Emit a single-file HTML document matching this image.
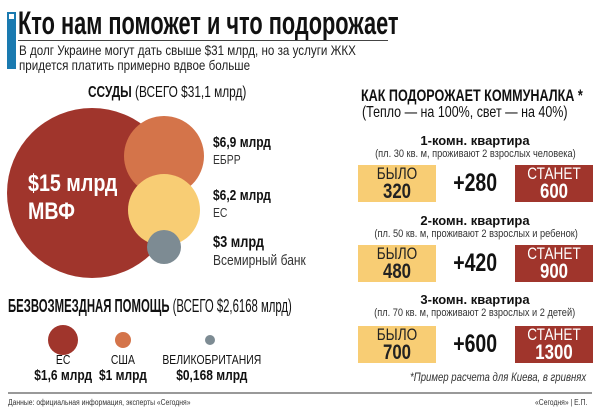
<!DOCTYPE html>
<html><head><meta charset="utf-8"><style>
body{margin:0;width:600px;height:411px;background:#fff;position:relative;overflow:hidden;font-family:"Liberation Sans",sans-serif;color:#111}
.a{position:absolute;white-space:nowrap}
.c{position:absolute;border-radius:50%}
.ctr{text-align:center}
.k{display:inline-block;transform-origin:left center}
.kc{display:inline-block;transform-origin:center center}
.box{position:absolute;width:78px;height:37px;text-align:center;line-height:17px;font-size:17px}
.box span{display:block;transform:scaleX(.8)}
.box b{display:block;font-size:21px;line-height:19px;transform:scaleX(.8)}
.y{background:#f8cd74;color:#222}
.r{background:#a0352c;color:#fff}
.h{font-weight:bold;font-size:13px;width:240px;left:355px;text-align:center}
.n{font-size:11px;width:240px;left:355px;text-align:center;color:#333}
.p{font-weight:bold;font-size:25px;width:70px;left:440px;text-align:center}
</style></head><body>
<div class="a" style="left:7px;top:12px;width:9px;height:57px;background:#1a7ab0"></div>
<div class="a" style="left:9px;top:14px;width:5px;height:5px;background:#fff"></div>
<div class="a" style="left:18px;top:5px;font-size:32px;font-weight:bold"><span class="k" style="transform:scaleX(.68)">Кто нам поможет и что подорожает</span></div>
<div class="a" style="left:18px;top:40px;width:370px;height:1px;background:#444"></div>
<div class="a" style="left:19px;top:43px;font-size:14px;line-height:15px;color:#222"><span class="k" style="transform:scaleX(.83)">В долг Украине могут дать свыше $31 млрд, но за услуги ЖКХ<br>придется платить примерно вдвое больше</span></div>

<div class="a" style="left:88px;top:84px;font-size:16px"><span class="k" style="transform:scaleX(.74)"><b>ССУДЫ</b> (ВСЕГО $31,1 млрд)</span></div>
<div class="c" style="left:7px;top:108px;width:170px;height:170px;background:#a0352c"></div>
<div class="c" style="left:124px;top:116px;width:80px;height:80px;background:#d4744a"></div>
<div class="c" style="left:128px;top:174px;width:72px;height:72px;background:#f8cd74"></div>
<div class="c" style="left:147px;top:230px;width:34px;height:34px;background:#7d8b93"></div>
<div class="a" style="left:28px;top:170px;color:#fff;font-weight:bold;font-size:24px;line-height:28px"><span class="k" style="transform:scaleX(.82)">$15 млрд<br>МВФ</span></div>
<div class="a" style="left:213px;top:134px;font-size:15px;line-height:17px"><span class="k" style="transform:scaleX(.8)"><b>$6,9 млрд</b><br><span style="font-size:13px;color:#333">ЕБРР</span></span></div>
<div class="a" style="left:213px;top:187px;font-size:15px;line-height:17px"><span class="k" style="transform:scaleX(.8)"><b>$6,2 млрд</b><br><span style="font-size:13px;color:#333">ЕС</span></span></div>
<div class="a" style="left:213px;top:234px;font-size:16px;line-height:18px"><span class="k" style="transform:scaleX(.8)"><b>$3 млрд</b><br><span style="font-size:15px;color:#333">Всемирный банк</span></span></div>

<div class="a" style="left:8px;top:296px;font-size:18px"><span class="k" style="transform:scaleX(.63)"><b>БЕЗВОЗМЕЗДНАЯ ПОМОЩЬ</b> (ВСЕГО $2,6168 млрд)</span></div>
<div class="c" style="left:48px;top:325px;width:30px;height:30px;background:#a0352c"></div>
<div class="c" style="left:115px;top:332px;width:16px;height:16px;background:#d4744a"></div>
<div class="c" style="left:205px;top:335px;width:10px;height:10px;background:#7d8b93"></div>
<div class="a ctr" style="left:13px;width:100px;top:352px;font-size:13px;line-height:16px"><span class="kc" style="transform:scaleX(.8)">ЕС<br><b style="font-size:15px">$1,6 млрд</b></span></div>
<div class="a ctr" style="left:73px;width:100px;top:352px;font-size:13px;line-height:16px"><span class="kc" style="transform:scaleX(.8)">США<br><b style="font-size:15px">$1 млрд</b></span></div>
<div class="a ctr" style="left:150px;width:120px;top:352px;font-size:13px;line-height:16px"><span class="kc" style="transform:scaleX(.8)">ВЕЛИКОБРИТАНИЯ<br><b style="font-size:15px">$0,168 млрд</b></span></div>

<div class="a ctr" style="left:222px;width:500px;top:87px;font-size:17px;font-weight:bold;line-height:18px"><span class="kc" style="transform:scaleX(.74)">КАК ПОДОРОЖАЕТ КОММУНАЛКА *</span></div>
<div class="a ctr" style="left:215px;width:500px;top:104px;font-size:16px"><span class="kc" style="transform:scaleX(.78)">(Тепло — на 100%, свет — на 40%)</span></div>

<div class="a h" style="top:133px">1-комн. квартира</div>
<div class="a n" style="top:148px"><span class="kc" style="transform:scaleX(.84)">(пл. 30 кв. м, проживают 2 взрослых человека)</span></div>
<div class="box y" style="left:358px;top:165px"><span>БЫЛО</span><b>320</b></div>
<div class="a p" style="top:169px"><span class="kc" style="transform:scaleX(.78)">+280</span></div>
<div class="box r" style="left:515px;top:165px"><span>СТАНЕТ</span><b>600</b></div>

<div class="a h" style="top:213px">2-комн. квартира</div>
<div class="a n" style="top:228px"><span class="kc" style="transform:scaleX(.84)">(пл. 50 кв. м, проживают 2 взрослых и ребенок)</span></div>
<div class="box y" style="left:358px;top:245px"><span>БЫЛО</span><b>480</b></div>
<div class="a p" style="top:249px"><span class="kc" style="transform:scaleX(.78)">+420</span></div>
<div class="box r" style="left:515px;top:245px"><span>СТАНЕТ</span><b>900</b></div>

<div class="a h" style="top:292px">3-комн. квартира</div>
<div class="a n" style="top:307px"><span class="kc" style="transform:scaleX(.84)">(пл. 70 кв. м, проживают 2 взрослых и 2 детей)</span></div>
<div class="box y" style="left:358px;top:326px"><span>БЫЛО</span><b>700</b></div>
<div class="a p" style="top:330px"><span class="kc" style="transform:scaleX(.78)">+600</span></div>
<div class="box r" style="left:515px;top:326px"><span>СТАНЕТ</span><b>1300</b></div>

<div class="a" style="left:410px;top:370px;font-size:12px;font-style:italic;color:#333"><span class="k" style="transform:scaleX(.8)">*Пример расчета для Киева, в гривнях</span></div>
<div class="a" style="left:8px;top:392px;width:584px;height:2px;background:#999"></div>
<div class="a" style="left:8px;top:398px;font-size:8px;color:#333"><span class="k" style="transform:scaleX(.85)">Данные: официальная информация, эксперты «Сегодня»</span></div>
<div class="a" style="left:535px;top:398px;font-size:8px;color:#333"><span class="k" style="transform:scaleX(.85)">«Сегодня» | Е.П.</span></div>
</body></html>
